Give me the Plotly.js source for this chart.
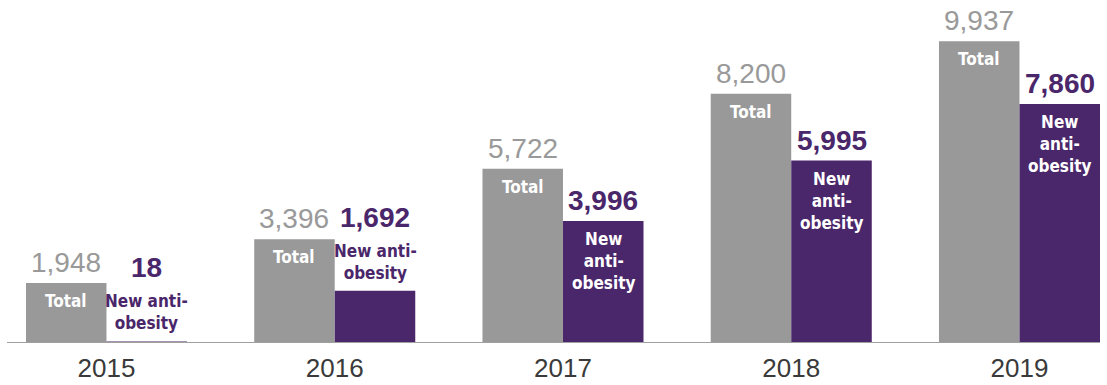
<!DOCTYPE html>
<html>
<head>
<meta charset="utf-8">
<script src="https://cdn.plot.ly/plotly-3.0.1.min.js"></script>
<style>html,body{margin:0;padding:0;background:#fff}#chart{width:1107px;height:385px}</style>
</head>
<body>
<div id="chart"></div>
<script>
const years = ["2015", "2016", "2017", "2018", "2019"];
const totalValues = [1948, 3396, 5722, 8200, 9937];
const newAntiObesityValues = [18, 1692, 3996, 5995, 7860];
const totalLabel = "Total";
const newLabel = "New anti-<br>obesity";
const newLabelNarrow = "New<br>anti-<br>obesity";

const GRAY = "#999999";
const PURPLE = "#4a266a";
const HALF = 0.1764;
const BARW = 0.3527;
const idx = years.map((_, i) => i);
const xTotal = idx.map(i => i - HALF);
const xNew = idx.map(i => i + HALF);

const fmt = v => v.toLocaleString("en-US");
const NUMFONT = "Liberation Sans, Arial, sans-serif";
const NARROW = "DejaVu Sans Condensed, Arial Narrow, sans-serif";

const annotations = [];
idx.forEach(i => {
  annotations.push({x: xTotal[i], y: totalValues[i], xref: "x", yref: "y", text: fmt(totalValues[i]),
    showarrow: false, yanchor: "bottom", yshift: 3, font: {family: NUMFONT, size: 28, color: GRAY}});
  annotations.push({x: xTotal[i], y: totalValues[i], xref: "x", yref: "y", text: "<b>" + totalLabel + "</b>",
    showarrow: false, yanchor: "top", yshift: -6, font: {family: NARROW, size: 17, color: "#ffffff"}});
  const small = newAntiObesityValues[i] < 2500;
  if (small) {
    annotations.push({x: xNew[i], y: newAntiObesityValues[i], xref: "x", yref: "y", text: "<b>" + newLabel + "</b>",
      showarrow: false, yanchor: "bottom", yshift: 6, font: {family: NARROW, size: 17, color: PURPLE}});
    annotations.push({x: xNew[i], y: newAntiObesityValues[i], xref: "x", yref: "y", text: "<b>" + fmt(newAntiObesityValues[i]) + "</b>",
      showarrow: false, yanchor: "bottom", yshift: 56, font: {family: NUMFONT, size: 28, color: PURPLE}});
  } else {
    annotations.push({x: xNew[i], y: newAntiObesityValues[i], xref: "x", yref: "y", text: "<b>" + fmt(newAntiObesityValues[i]) + "</b>",
      showarrow: false, yanchor: "bottom", yshift: 3, font: {family: NUMFONT, size: 28, color: PURPLE}});
    annotations.push({x: xNew[i], y: newAntiObesityValues[i], xref: "x", yref: "y", text: "<b>" + newLabelNarrow + "</b>",
      showarrow: false, yanchor: "top", yshift: -6, font: {family: NARROW, size: 17, color: "#ffffff"}});
  }
});

const data = [
  {type: "bar", x: xTotal, y: totalValues, width: BARW, marker: {color: GRAY}, hoverinfo: "none", showlegend: false},
  {type: "bar", x: xNew, y: newAntiObesityValues, width: BARW, marker: {color: PURPLE}, hoverinfo: "none", showlegend: false}
];

const layout = {
  width: 1107, height: 385,
  margin: {l: 7, r: 7, t: 0, b: 43},
  paper_bgcolor: "#ffffff", plot_bgcolor: "#ffffff",
  barmode: "overlay",
  xaxis: {range: [-0.4359, 4.3527], tickvals: idx, ticktext: years, showgrid: false, zeroline: false,
    showline: true, linecolor: "#a0a0a0", linewidth: 1, ticks: "", fixedrange: true, ticklabelstandoff: 3,
    tickfont: {family: NUMFONT, size: 26, color: "#3a3a3a"}},
  yaxis: {range: [0, 11300], visible: false, showgrid: false, zeroline: false, fixedrange: true},
  annotations: annotations
};

Plotly.newPlot("chart", data, layout, {displayModeBar: false, staticPlot: true});
</script>
</body>
</html>
